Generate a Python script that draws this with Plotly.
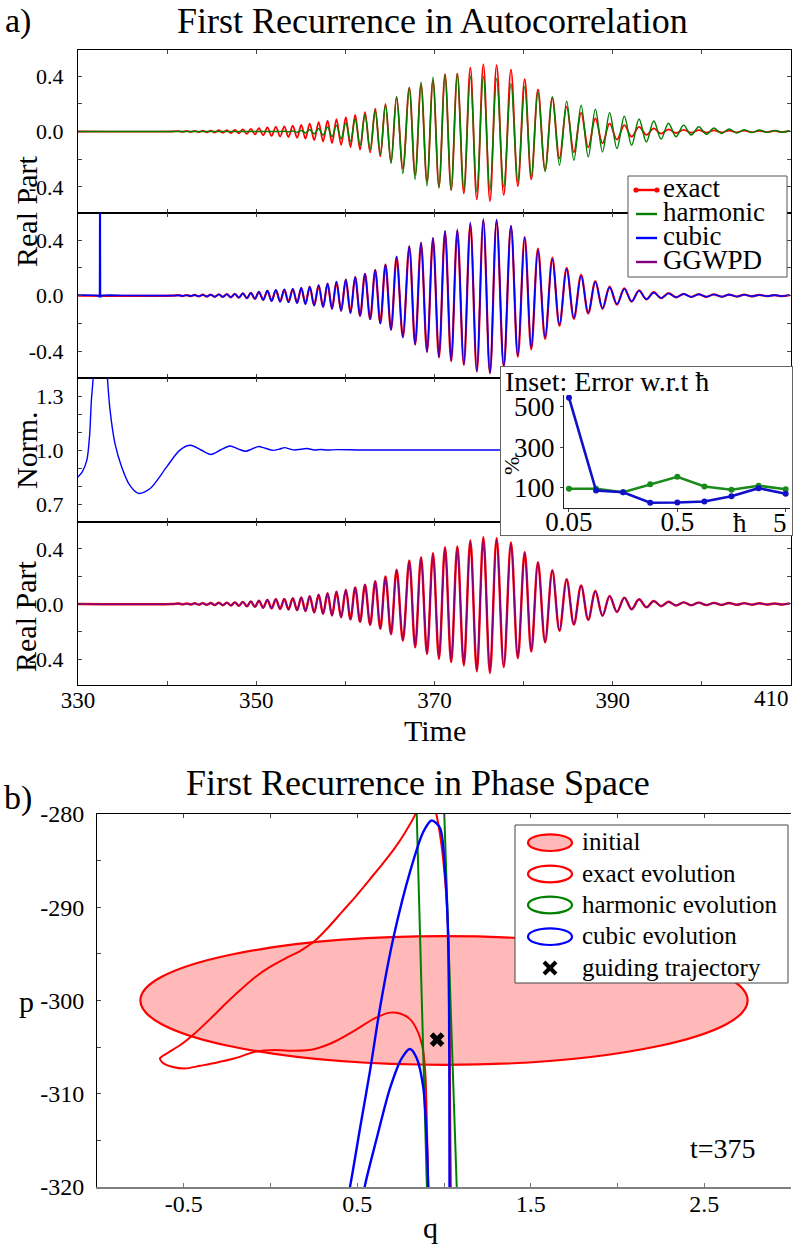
import plotly.graph_objects as go

W, H = 794, 1247
FONT = "Liberation Serif"
RED, GREEN, BLUE, PURPLE = "#ff0000", "#008000", "#0000ff", "#800080"

# ---------------- panel a : autocorrelation (extrema) -------------
LEAD_T = [330.0, 340.6]
LEAD_V = [0.0, 0.0]
T_MAX = [341.3, 342.2, 343.1, 344.0, 344.9, 345.8, 346.7, 347.6, 348.5, 349.4, 350.3, 351.25, 352.2, 353.15,
         354.1, 355.05, 356.0, 357.0, 358.0, 359.0, 360.05, 361.1, 362.2, 363.35, 364.5, 365.75, 367.17,
         368.49, 369.83, 371.18, 372.56, 374.02, 375.48, 376.97, 378.58, 380.12, 381.61, 383.22, 384.83,
         386.45, 388.05, 389.65, 391.3, 392.95, 394.6, 396.25, 397.95, 399.65, 401.35, 403.05, 404.75,
         406.45, 408.15, 409.85]
T_MIN = [341.75, 342.65, 343.55, 344.45, 345.35, 346.25, 347.15, 348.05, 348.95, 349.85, 350.78, 351.72,
         352.68, 353.62, 354.58, 355.52, 356.5, 357.5, 358.5, 359.52, 360.57, 361.65, 362.78, 363.92, 365.12,
         366.45, 367.83, 369.16, 370.5, 371.87, 373.29, 374.75, 376.22, 377.77, 379.35, 380.86, 382.41,
         384.02, 385.64, 387.25, 388.85, 390.47, 392.12, 393.77, 395.42, 397.1, 398.8, 400.5, 402.2, 403.9,
         405.6, 407.3, 409.0]
EXACT_MAX = [0.003, 0.004, 0.005, 0.006, 0.007, 0.009, 0.010, 0.012, 0.015, 0.019, 0.024, 0.030, 0.034, 0.037,
             0.042, 0.048, 0.057, 0.067, 0.078, 0.090, 0.104, 0.120, 0.140, 0.165, 0.200, 0.250, 0.317, 0.341,
             0.370, 0.413, 0.418, 0.461, 0.485, 0.478, 0.447, 0.377, 0.303, 0.245, 0.180, 0.135, 0.094, 0.058,
             0.046, 0.034, 0.022, 0.016, 0.012, 0.010, 0.008, 0.007, 0.006, 0.005, 0.004, 0.004]
EXACT_MIN = [-0.003, -0.004, -0.005, -0.006, -0.008, -0.009, -0.011, -0.013, -0.017, -0.021, -0.027, -0.032,
             -0.036, -0.040, -0.045, -0.052, -0.062, -0.072, -0.084, -0.097, -0.112, -0.130, -0.152, -0.180,
             -0.220, -0.267, -0.315, -0.363, -0.399, -0.423, -0.447, -0.490, -0.502, -0.459, -0.394, -0.346,
             -0.279, -0.195, -0.150, -0.115, -0.086, -0.058, -0.038, -0.024, -0.016, -0.011, -0.009, -0.008,
             -0.007, -0.006, -0.005, -0.004, -0.004]
HARM_MAX = [0.0, 0.0, 0.0, 0.0, 0.0, 0.0, 0.0, 0.0, 0.0, 0.0, 0.0, 0.0, 0.0, 0.002, 0.004, 0.008, 0.013, 0.021,
            0.032, 0.045, 0.062, 0.090, 0.120, 0.150, 0.190, 0.250, 0.317, 0.358, 0.394, 0.411, 0.418, 0.399,
            0.399, 0.382, 0.346, 0.322, 0.286, 0.250, 0.219, 0.190, 0.160, 0.135, 0.110, 0.090, 0.075, 0.060,
            0.045, 0.035, 0.025, 0.018, 0.013, 0.010, 0.008, 0.006]
HARM_MIN = [0.0, 0.0, 0.0, 0.0, 0.0, 0.0, 0.0, 0.0, 0.0, 0.0, 0.0, 0.0, 0.0, -0.002, -0.005, -0.010, -0.016,
            -0.025, -0.037, -0.052, -0.072, -0.100, -0.130, -0.165, -0.230, -0.303, -0.346, -0.394, -0.410,
            -0.423, -0.423, -0.435, -0.423, -0.399, -0.363, -0.327, -0.290, -0.243, -0.207, -0.183, -0.147,
            -0.123, -0.100, -0.075, -0.055, -0.038, -0.026, -0.020, -0.015, -0.011, -0.008, -0.006, -0.005]
EX2_MAX = [0.003, 0.004, 0.006, 0.007, 0.008, 0.010, 0.011, 0.013, 0.017, 0.021, 0.027, 0.034, 0.038, 0.041,
           0.047, 0.054, 0.064, 0.075, 0.087, 0.100, 0.116, 0.134, 0.157, 0.185, 0.224, 0.280, 0.355, 0.382,
           0.414, 0.463, 0.468, 0.516, 0.543, 0.535, 0.500, 0.422, 0.339, 0.274, 0.200, 0.151, 0.105, 0.065,
           0.052, 0.038, 0.025, 0.018, 0.013, 0.011, 0.009, 0.008, 0.007, 0.006, 0.004, 0.004]
EX2_MIN = [-0.003, -0.004, -0.006, -0.007, -0.009, -0.010, -0.012, -0.015, -0.019, -0.024, -0.030, -0.036,
           -0.040, -0.045, -0.050, -0.058, -0.069, -0.081, -0.094, -0.109, -0.125, -0.146, -0.170, -0.200,
           -0.246, -0.300, -0.353, -0.407, -0.447, -0.474, -0.500, -0.549, -0.562, -0.514, -0.441, -0.388,
           -0.312, -0.218, -0.168, -0.129, -0.096, -0.065, -0.043, -0.027, -0.018, -0.012, -0.010, -0.009,
           -0.008, -0.007, -0.006, -0.004, -0.004]
CUB_MAX = [0.002, 0.003, 0.004, 0.005, 0.006, 0.008, 0.010, 0.012, 0.016, 0.020, 0.027, 0.036, 0.042, 0.046,
           0.050, 0.056, 0.066, 0.077, 0.088, 0.101, 0.117, 0.135, 0.158, 0.186, 0.226, 0.285, 0.360, 0.385,
           0.418, 0.470, 0.480, 0.530, 0.555, 0.550, 0.505, 0.420, 0.330, 0.262, 0.190, 0.142, 0.098, 0.060,
           0.048, 0.035, 0.022, 0.015, 0.011, 0.009, 0.008, 0.007, 0.006, 0.005, 0.004, 0.004]
CUB_MIN = [-0.002, -0.003, -0.004, -0.005, -0.007, -0.009, -0.011, -0.014, -0.018, -0.023, -0.032, -0.040,
           -0.046, -0.050, -0.055, -0.062, -0.072, -0.083, -0.096, -0.110, -0.126, -0.147, -0.171, -0.202,
           -0.248, -0.302, -0.355, -0.405, -0.443, -0.470, -0.497, -0.545, -0.555, -0.505, -0.430, -0.375,
           -0.300, -0.208, -0.160, -0.122, -0.090, -0.060, -0.040, -0.025, -0.017, -0.011, -0.009, -0.008,
           -0.007, -0.006, -0.005, -0.004, -0.004]
CUB_PRE_T = [330.0, 330.8, 331.6, 332.3, 332.42, 332.47, 332.52, 332.65, 333.5, 335.0, 340.6]
CUB_PRE_V = [0.004, 0.006, 0.003, 0.0, -0.012, 1.5, -0.012, 0.0, 0.004, 0.001, 0.0]
GG_MAX = [0.003, 0.004, 0.005, 0.006, 0.007, 0.009, 0.010, 0.012, 0.015, 0.019, 0.024, 0.030, 0.034, 0.037,
          0.042, 0.048, 0.057, 0.067, 0.078, 0.090, 0.104, 0.119, 0.139, 0.163, 0.197, 0.246, 0.310, 0.333,
          0.362, 0.403, 0.408, 0.450, 0.472, 0.466, 0.437, 0.370, 0.298, 0.241, 0.177, 0.133, 0.092, 0.057,
          0.045, 0.033, 0.022, 0.016, 0.012, 0.010, 0.008, 0.007, 0.006, 0.005, 0.004, 0.004]
GG_MIN = [-0.003, -0.004, -0.005, -0.006, -0.008, -0.009, -0.011, -0.013, -0.017, -0.021, -0.027, -0.032,
          -0.036, -0.040, -0.045, -0.052, -0.062, -0.072, -0.084, -0.097, -0.111, -0.128, -0.150, -0.177,
          -0.216, -0.261, -0.308, -0.355, -0.390, -0.413, -0.437, -0.478, -0.490, -0.449, -0.386, -0.340,
          -0.275, -0.192, -0.148, -0.114, -0.085, -0.057, -0.038, -0.024, -0.016, -0.011, -0.009, -0.008,
          -0.007, -0.006, -0.005, -0.004, -0.004]
NORM_T = [330.0, 330.5, 331.0, 331.3, 331.5, 331.7, 331.85, 332.45, 333.05, 333.3, 333.6, 334.15, 334.9, 335.8,
          336.8, 338.1, 339.95, 341.4, 342.6, 343.8, 344.9, 346.0, 347.05, 348.0, 348.8, 349.5, 350.2, 351.0,
          351.9, 352.6, 353.2, 353.8, 354.3, 355.0, 355.7, 356.5, 357.2, 358.0, 359.0, 362.0, 370.0, 390.0, 410.0]
NORM_V = [0.85, 0.88, 0.945, 1.08, 1.275, 1.40, 1.6, 5.0, 1.6, 1.40, 1.22, 1.035, 0.906, 0.805, 0.759, 0.786,
          0.906, 0.998, 1.026, 1.0, 0.975, 1.0, 1.022, 1.005, 0.993, 1.005, 1.019, 1.01, 0.998, 1.005, 1.013,
          1.005, 1.0, 1.004, 1.008, 1.0, 1.003, 1.0, 1.002, 1.0, 1.0, 1.0, 1.0]
TIME_TICKS = [330, 340, 350, 360, 370, 380, 390, 400, 410]
TIME_TEXT = ["330", "", "350", "", "370", "", "390", "", ""]
RE_TICKS = [-0.4, -0.2, 0.0, 0.2, 0.4]
RE_TEXT = ["-0.4", "", "0.0", "", "0.4"]
NORM_TICKS = [0.7, 0.8, 0.9, 1.0, 1.1, 1.2, 1.3]
NORM_TEXT = ["0.7", "", "", "1.0", "", "", "1.3"]

# inset
HBAR = [0.05, 0.0889, 0.158, 0.281, 0.5, 0.889, 1.58, 2.81, 5.0]
ERR_HARM = [95, 95, 78, 117, 154, 106, 90, 110, 93]
ERR_CUBIC = [545, 86, 78, 26, 27, 32, 58, 98, 70]

# ---------------- panel b : phase space ----------------
INIT_Q = [-0.75, 2.75]
INIT_P = [-306.9, -293.1]
EXACT_Q = [1.040, 1.035, 1.032, 1.026, 1.006, 0.977, 0.942, 0.896, 0.862, 0.833, 0.775, 0.718, 0.648, 0.573,
           0.493, 0.412, 0.331, 0.256, 0.170, 0.084, -0.003, -0.089, -0.176, -0.262, -0.349, -0.435, -0.522,
           -0.591, -0.637, -0.620, -0.568, -0.493, -0.406, -0.320, -0.205, -0.089, 0.026, 0.141, 0.256, 0.372,
           0.487, 0.602, 0.689, 0.746, 0.804, 0.850, 0.879, 0.893, 0.902, 0.911]
EXACT_P = [-321.4, -310.7, -299.9, -293.5, -287.0, -282.2, -279.0, -277.4, -278.5, -280.1, -282.0, -283.6,
           -285.3, -287.0, -288.8, -290.5, -292.2, -293.6, -294.7, -295.5, -296.4, -297.5, -298.9, -300.4,
           -302.0, -303.5, -304.8, -305.6, -306.2, -306.7, -307.1, -307.3, -307.0, -306.7, -306.2, -305.5,
           -305.3, -305.4, -305.2, -304.4, -303.2, -301.9, -301.3, -301.4, -302.0, -303.4, -305.3, -308.0,
           -313.9, -321.4]
HARM_Q = [0.839, 0.843, 0.862, 0.881, 0.900, 0.905, 1.081, 1.073, 1.037, 1.017, 1.000, 0.997, 0.839]
HARM_P = [-277.4, -280.1, -293.3, -307.6, -319.8, -322.5, -322.5, -319.8, -299.9, -289.2, -280.1, -277.4, -277.4]
CUBO_Q = [0.441, 0.458, 0.516, 0.573, 0.631, 0.708, 0.804, 0.881, 0.929, 0.977, 1.006, 1.021, 1.029, 1.031, 1.032]
CUBO_P = [-321.4, -320.0, -313.7, -307.6, -300.8, -293.3, -286.2, -281.9, -280.7, -281.5, -286.2, -291.5,
          -300.5, -311.2, -321.4]
CUBI_Q = [0.911, 0.900, 0.881, 0.843, 0.804, 0.756, 0.689, 0.612, 0.545, 0.533]
CUBI_P = [-321.4, -314.8, -309.4, -306.2, -305.2, -306.2, -309.4, -314.8, -319.8, -321.4]
GUIDE_Q = [0.96]
GUIDE_P = [-304.2]
Q_TICKS = [-1.0, -0.5, 0.0, 0.5, 1.0, 1.5, 2.0, 2.5, 3.0]
Q_TEXT = ["", "-0.5", "", "0.5", "", "1.5", "", "2.5", ""]
P_TICKS = [-320, -315, -310, -305, -300, -295, -290, -285, -280]
P_TEXT = ["-320", "", "-310", "", "-300", "", "-290", "", "-280"]


def fx(px):
    return px / W


def fy(py):
    return 1 - py / H


def merge(*pairs):
    pts = []
    for t, v in pairs:
        pts += list(zip(t, v))
    pts.sort()
    return [p[0] for p in pts], [p[1] for p in pts]


fig = go.Figure()


def line(x, y, xa, ya, color, width, shape="spline", smoothing=1.0):
    fig.add_trace(go.Scatter(x=x, y=y, xaxis=xa, yaxis=ya, mode="lines", showlegend=False,
                             line=dict(color=color, width=width, shape=shape,
                                       smoothing=smoothing if shape == "spline" else None),
                             hoverinfo="skip"))


ex_t, ex_v = merge((LEAD_T, LEAD_V), (T_MAX, EXACT_MAX), (T_MIN, EXACT_MIN))
ha_t, ha_v = merge((LEAD_T, LEAD_V), (T_MAX, HARM_MAX), (T_MIN, HARM_MIN))
e2_t, e2_v = merge((LEAD_T, LEAD_V), (T_MAX, EX2_MAX), (T_MIN, EX2_MIN))
cu_t, cu_v = merge((T_MAX, CUB_MAX), (T_MIN, CUB_MIN))
gg_t, gg_v = merge((LEAD_T, LEAD_V), (T_MAX, GG_MAX), (T_MIN, GG_MIN))

# panel 1
line(ex_t, ex_v, "x", "y", RED, 1.8)
line(ha_t, ha_v, "x", "y", GREEN, 1.5)
# panel 2
line(e2_t, e2_v, "x2", "y2", RED, 2.2)
line(CUB_PRE_T, CUB_PRE_V, "x2", "y2", BLUE, 1.6, shape="linear")
line([CUB_PRE_T[-1]] + cu_t, [CUB_PRE_V[-1]] + cu_v, "x2", "y2", BLUE, 1.6)
# panel 3
line(NORM_T, NORM_V, "x3", "y3", BLUE, 1.4, smoothing=0.8)
# panel 4
line(ex_t, ex_v, "x4", "y4", RED, 2.4)
line(gg_t, gg_v, "x4", "y4", PURPLE, 1.5)
# white inset box (own subplot so it hides what is below)
fig.add_trace(go.Scatter(x=[], y=[], xaxis="x5", yaxis="y5", showlegend=False))
# inset
fig.add_trace(go.Scatter(x=HBAR, y=ERR_HARM, xaxis="x6", yaxis="y6", mode="lines+markers", showlegend=False,
                         line=dict(color="#1a8a1a", width=2.6), marker=dict(size=6, color="#1a8a1a")))
fig.add_trace(go.Scatter(x=HBAR, y=ERR_CUBIC, xaxis="x6", yaxis="y6", mode="lines+markers", showlegend=False,
                         line=dict(color="#1010c8", width=2.6), marker=dict(size=6, color="#1010c8")))
# phase space
line(EXACT_Q, EXACT_P, "x7", "y7", RED, 2.0, smoothing=0.7)
line(HARM_Q, HARM_P, "x7", "y7", GREEN, 2.0, shape="linear")
line(CUBO_Q, CUBO_P, "x7", "y7", BLUE, 2.4, smoothing=0.8)
line(CUBI_Q, CUBI_P, "x7", "y7", BLUE, 2.4, smoothing=0.8)
fig.add_trace(go.Scatter(x=GUIDE_Q, y=GUIDE_P, xaxis="x8", yaxis="y7", mode="markers", showlegend=False,
                         marker=dict(symbol="x", size=13, color="black", line=dict(width=0))))

XD = [fx(78), fx(791)]


def taxis(anchor, labels):
    return dict(domain=XD, anchor=anchor, range=[330, 410], tickvals=TIME_TICKS,
                ticktext=TIME_TEXT if labels else [""] * len(TIME_TICKS), ticks="inside", ticklen=4,
                tickwidth=1, mirror="ticks", showline=True, linecolor="black", linewidth=1.4,
                showgrid=False, zeroline=False, tickfont=dict(family=FONT, size=23, color="black"),
                ticklabelstandoff=-6, automargin=False)


def vaxis(anchor, dom, rng, tv, tt):
    return dict(domain=dom, anchor=anchor, range=rng, tickvals=tv, ticktext=tt, ticks="inside", ticklen=4,
                tickwidth=1, mirror="ticks", showline=True, linecolor="black", linewidth=1.2,
                showgrid=False, zeroline=False, tickfont=dict(family=FONT, size=22, color="black"),
                ticklabelstandoff=9, automargin=False)


layout = dict(
    template="none",
    width=W, height=H, margin=dict(l=0, r=0, t=0, b=0, pad=0, autoexpand=False),
    paper_bgcolor="white", plot_bgcolor="white",
    showlegend=False, font=dict(family=FONT, color="black"),
    xaxis=taxis("y", False), xaxis2=taxis("y2", False), xaxis3=taxis("y3", False), xaxis4=taxis("y4", True),
    yaxis=vaxis("x", [fy(213), fy(50)], [-0.588, 0.588], RE_TICKS, RE_TEXT),
    yaxis2=vaxis("x2", [fy(378), fy(213)], [-0.595, 0.597], RE_TICKS, RE_TEXT),
    yaxis3=vaxis("x3", [fy(522), fy(378)], [0.6, 1.4], NORM_TICKS, NORM_TEXT),
    yaxis4=vaxis("x4", [fy(685), fy(522)], [-0.589, 0.596], RE_TICKS, RE_TEXT),
    xaxis5=dict(domain=[fx(501), fx(792)], anchor="y5", range=[0, 1], showline=True, mirror=True,
                linecolor="#666666", linewidth=1, showticklabels=False, ticks="", showgrid=False,
                zeroline=False, automargin=False),
    yaxis5=dict(domain=[fy(535), fy(367)], anchor="x5", range=[0, 1], showline=True, mirror=True,
                linecolor="#666666", linewidth=1, showticklabels=False, ticks="", showgrid=False,
                zeroline=False, automargin=False),
    xaxis6=dict(domain=[fx(564), fx(790)], anchor="y6", type="log", range=[-1.347, 0.739],
                tickvals=[0.05, 0.5, 5], ticktext=["0.05", "0.5", ""], ticks="outside", ticklen=3,
                showline=True, linecolor="#222222", linewidth=1, showgrid=False, zeroline=False,
                tickfont=dict(family=FONT, size=27, color="black"), ticklabelstandoff=-13, automargin=False),
    yaxis6=dict(domain=[fy(508), fy(395)], anchor="x6", range=[0, 558], tickvals=[100, 300, 500],
                ticktext=["100", "300", "500"], ticks="outside", ticklen=3, showline=True,
                linecolor="#222222", linewidth=1, showgrid=False, zeroline=False,
                tickfont=dict(family=FONT, size=27, color="black"), ticklabelstandoff=0, automargin=False),
    xaxis7=dict(domain=[fx(97), fx(791)], anchor="y7", range=[-1, 3], tickvals=Q_TICKS, ticktext=Q_TEXT,
                ticks="inside", ticklen=4, tickcolor="#777777", showline=True, linecolor="#808080",
                linewidth=2, showgrid=False, zeroline=False,
                tickfont=dict(family=FONT, size=24, color="black"), ticklabelstandoff=-6, automargin=False),
    xaxis8=dict(overlaying="x7", side="top", anchor="y7", range=[-1, 3], tickvals=Q_TICKS,
                showticklabels=False, ticks="inside", ticklen=4, showline=True, linecolor="black",
                linewidth=1, showgrid=False, zeroline=False, automargin=False),
    yaxis7=dict(domain=[fy(1187), fy(814)], anchor="x7", range=[-320, -280], tickvals=P_TICKS,
                ticktext=P_TEXT, ticks="inside", ticklen=4, showline=True, linecolor="black", linewidth=1,
                showgrid=False, zeroline=False, tickfont=dict(family=FONT, size=24, color="black"),
                ticklabelstandoff=7, automargin=False),
)

shapes = [
    dict(type="circle", xref="x7", yref="y7", x0=INIT_Q[0], x1=INIT_Q[1], y0=INIT_P[0], y1=INIT_P[1],
         fillcolor="#ffb9b9", line=dict(color=RED, width=2.2), layer="below"),
    # legend a
    dict(type="rect", xref="paper", yref="paper", x0=fx(628), x1=fx(787), y0=fy(277), y1=fy(176),
         fillcolor="white", line=dict(color="#555555", width=1), layer="above"),
]
ann = []
leg_a = [("exact", RED, 190), ("harmonic", GREEN, 214), ("cubic", BLUE, 238), ("GGWPD", PURPLE, 262)]
for name, col, yc in leg_a:
    shapes.append(dict(type="line", xref="paper", yref="paper", x0=fx(636), x1=fx(657), y0=fy(yc), y1=fy(yc),
                       line=dict(color=col, width=2.4), layer="above"))
    ann.append(dict(text=name, x=fx(661), y=fy(yc - 2), xref="paper", yref="paper", xanchor="left",
                    yanchor="middle", showarrow=False, font=dict(family=FONT, size=27, color="black")))
for xd in (636, 657):
    shapes.append(dict(type="circle", xref="paper", yref="paper", x0=fx(xd - 2.6), x1=fx(xd + 2.6),
                       y0=fy(190 + 2.6), y1=fy(190 - 2.6), fillcolor=RED, line=dict(width=0), layer="above"))

# legend b
shapes.append(dict(type="rect", xref="paper", yref="paper", x0=fx(515), x1=fx(788), y0=fy(983), y1=fy(825),
                   fillcolor="white", line=dict(color="#444444", width=1), layer="above"))
leg_b = [("initial", RED, "#ffb9b9", 842.7), ("exact evolution", RED, "white", 874),
         ("harmonic evolution", GREEN, "white", 905), ("cubic evolution", BLUE, "white", 936.7)]
for name, col, fc, yc in leg_b:
    shapes.append(dict(type="circle", xref="paper", yref="paper", x0=fx(528), x1=fx(572), y0=fy(yc + 8.3),
                       y1=fy(yc - 8.3), fillcolor=fc, line=dict(color=col, width=2.2), layer="above"))
    ann.append(dict(text=name, x=fx(580), y=fy(yc - 1), xref="paper", yref="paper", xanchor="left",
                    yanchor="middle", showarrow=False, font=dict(family=FONT, size=25, color="black")))
for (a, b, c, d) in [(544, 962, 556, 974), (544, 974, 556, 962)]:
    shapes.append(dict(type="line", xref="paper", yref="paper", x0=fx(a), y0=fy(b), x1=fx(c), y1=fy(d),
                       line=dict(color="black", width=4), layer="above"))
ann.append(dict(text="guiding trajectory", x=fx(580), y=fy(967), xref="paper", yref="paper", xanchor="left",
                yanchor="middle", showarrow=False, font=dict(family=FONT, size=25, color="black")))


def txt(s, px, py, size, angle=0, xanchor="center"):
    ann.append(dict(text=s, x=fx(px), y=fy(py), xref="paper", yref="paper", xanchor=xanchor, yanchor="middle",
                    showarrow=False, textangle=angle, font=dict(family=FONT, size=size, color="black")))


txt("a)", 18, 21, 34)
txt("First Recurrence in Autocorrelation", 432, 21, 36)
txt("Real Part", 27, 212, 30, -90)
txt("Norm.", 27, 450, 30, -90)
txt("Real Part", 25, 617, 30, -90)
ann.append(dict(text="410", x=410, xref="x4", y=fy(698), yref="paper", xanchor="right", yanchor="middle",
                showarrow=False, font=dict(family=FONT, size=23, color="black")))
txt("Time", 435, 731, 30)
txt("Inset: Error w.r.t ħ", 503, 381, 28, xanchor="left")
txt("%", 512, 466, 22, -90)
txt("ħ", 740, 523, 27)
txt("5", 780, 523, 27)
txt("b)", 18, 798, 34)
txt("First Recurrence in Phase Space", 418, 783, 36)
txt("p", 26, 1001, 30)
txt("q", 430, 1227, 30)
txt("t=375", 723, 1148, 28)

layout["shapes"] = shapes
layout["annotations"] = ann
fig.update_layout(**layout)
fig.write_html("out.html")
